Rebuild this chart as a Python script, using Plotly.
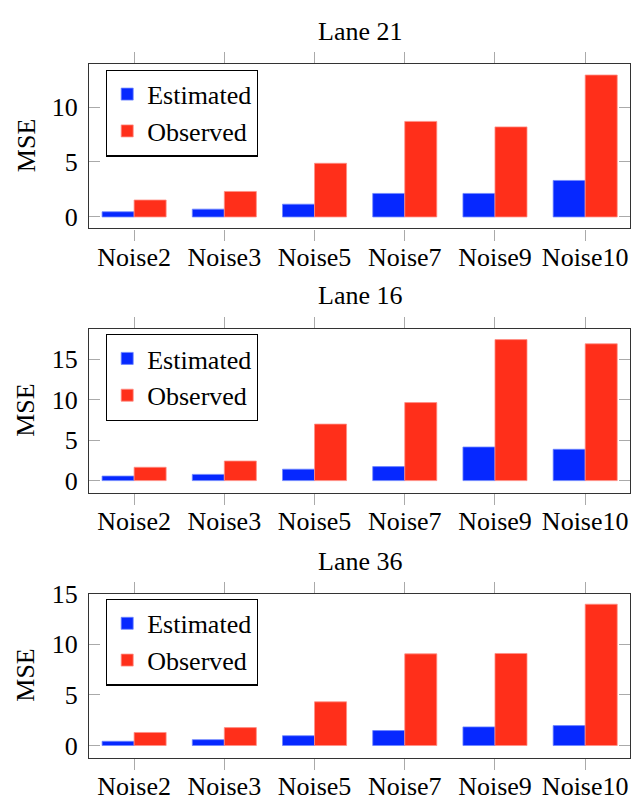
import plotly.graph_objects as go

categories = ["Noise2", "Noise3", "Noise5", "Noise7", "Noise9", "Noise10"]
series_names = ["Estimated", "Observed"]
panel_titles = ["Lane 21", "Lane 16", "Lane 36"]

lane21_estimated = [0.47, 0.71, 1.16, 2.14, 2.14, 3.32]
lane21_observed = [1.54, 2.32, 4.88, 8.69, 8.19, 12.91]
lane16_estimated = [0.56, 0.77, 1.41, 1.73, 4.15, 3.87]
lane16_observed = [1.65, 2.42, 6.98, 9.64, 17.42, 16.90]
lane36_estimated = [0.42, 0.58, 0.97, 1.48, 1.84, 1.97]
lane36_observed = [1.29, 1.77, 4.32, 9.06, 9.10, 13.97]

y_ranges = [[-1.04, 13.92], [-1.49, 18.74], [-1.2, 15.0]]

W, H = 642, 805
FONT = "Liberation Serif, Times New Roman, serif"
BLUE = "#0628FF"
RED = "#FF2F1A"

panels = [
    (lane21_estimated, lane21_observed),
    (lane16_estimated, lane16_observed),
    (lane36_estimated, lane36_observed),
]
# pixel layout of each panel frame (top, bottom)
frames_px = [(51, 219), (321.7, 489), (592.3, 759.7)]
title_px = [18, 288, 559]
legend_top_px = [56.7, 326.7, 597.3]
x_left_px, x_right_px = 89, 630.3

fig = go.Figure()
annotations = []
for i, ((est, obs), (top, bot)) in enumerate(zip(panels, frames_px)):
    n = i + 1
    xa = "x" if n == 1 else f"x{n}"
    ya = "y" if n == 1 else f"y{n}"
    leg = "legend" if n == 1 else f"legend{n}"
    fig.add_trace(go.Bar(x=categories, y=est, name=series_names[0],
                         marker=dict(color=BLUE, line=dict(color="#6f86ff", width=0.8)),
                         xaxis=xa, yaxis=ya, legend=leg))
    fig.add_trace(go.Bar(x=categories, y=obs, name=series_names[1],
                         marker=dict(color=RED, line=dict(color="#ff8f85", width=0.8)),
                         xaxis=xa, yaxis=ya, legend=leg))
    xkey = "xaxis" if n == 1 else f"xaxis{n}"
    ykey = "yaxis" if n == 1 else f"yaxis{n}"
    fig.layout[xkey] = dict(
        domain=[x_left_px / W, x_right_px / W], anchor=ya,
        range=[-0.5, 5.5], showgrid=False, zeroline=False,
        showline=True, linecolor="#333", linewidth=1.3, mirror="ticks",
        ticks="outside", ticklen=11, tickcolor="#aaaaaa", tickwidth=1.2,
        tickfont=dict(family=FONT, size=26, color="black"),
        ticklabelstandoff=-6,
    )
    fig.layout[ykey] = dict(
        domain=[1 - bot / H, 1 - top / H], anchor=xa,
        range=y_ranges[i], dtick=5, tick0=0, showgrid=False, zeroline=False,
        showline=True, linecolor="#333", linewidth=1.3, mirror="ticks",
        ticks="inside", ticklen=11, tickcolor="#aaaaaa", tickwidth=1.2,
        tickfont=dict(family=FONT, size=26, color="black"),
        ticklabelstandoff=5,
    )
    fig.layout[leg] = dict(
        x=106 / W, y=1 - legend_top_px[i] / H, xanchor="left", yanchor="top",
        bgcolor="white", bordercolor="black", borderwidth=1.2,
        font=dict(family=FONT, size=26, color="black"),
        itemwidth=30, tracegroupgap=0,
    )
    annotations.append(dict(text=panel_titles[i], x=((x_left_px + x_right_px) / 2) / W,
                            y=1 - title_px[i] / H, xref="paper", yref="paper",
                            xanchor="center", yanchor="middle", showarrow=False,
                            font=dict(family=FONT, size=26, color="black")))
    annotations.append(dict(text="MSE", x=26 / W, y=1 - ((top + bot) / 2) / H,
                            xref="paper", yref="paper", textangle=-90,
                            xanchor="center", yanchor="middle", showarrow=False,
                            font=dict(family=FONT, size=26, color="black")))

fig.update_layout(
    width=W, height=H, margin=dict(l=0, r=0, t=0, b=0),
    paper_bgcolor="white", plot_bgcolor="white",
    barmode="group", bargap=0.29, bargroupgap=0,
    annotations=annotations, showlegend=True,
)
fig.write_html("out.html")
